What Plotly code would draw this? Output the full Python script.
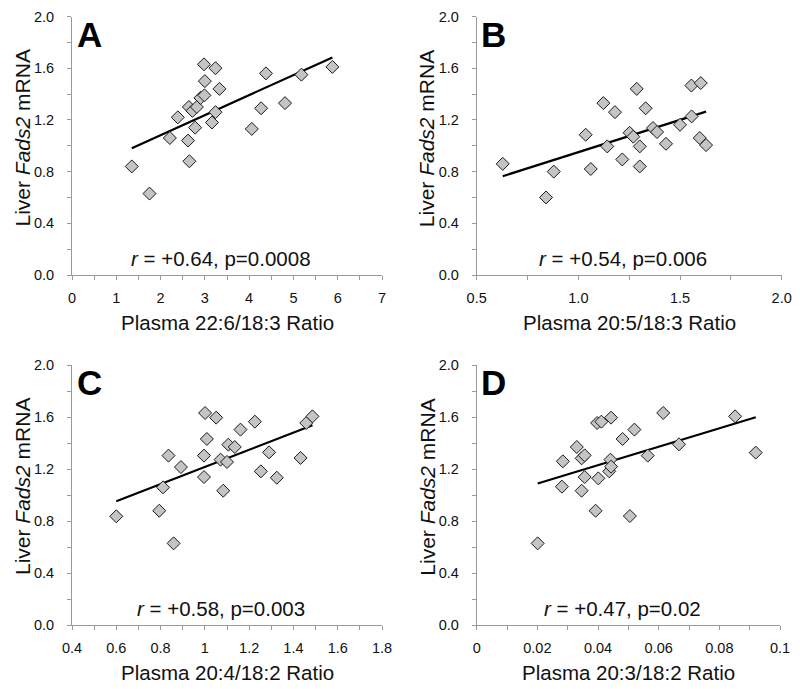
import numpy as np
import plotly.graph_objects as go

# ---------------- data ----------------
a_x = [1.35, 1.75, 2.21, 2.39, 2.62, 2.65, 2.64, 2.72, 2.82, 2.78, 2.90, 2.99,
       3.00, 2.98, 3.24, 3.33, 3.24, 3.16, 4.06, 4.27, 4.38, 4.81, 5.18, 5.88]
a_y = [0.84, 0.63, 1.06, 1.22, 1.04, 0.88, 1.30, 1.27, 1.30, 1.14, 1.37, 1.39,
       1.50, 1.63, 1.60, 1.44, 1.26, 1.18, 1.13, 1.29, 1.56, 1.33, 1.55, 1.61]

b_x = [0.628, 0.841, 0.879, 1.036, 1.061, 1.123, 1.142, 1.180, 1.216, 1.252, 1.270, 1.287,
       1.302, 1.302, 1.331, 1.367, 1.387, 1.431, 1.500, 1.556, 1.557, 1.602, 1.597, 1.628]
b_y = [0.86, 0.60, 0.80, 1.085, 0.82, 1.33, 0.995, 1.26, 0.894, 1.10, 1.07, 1.44,
       0.995, 0.84, 1.29, 1.137, 1.106, 1.015, 1.162, 1.466, 1.227, 1.485, 1.06, 1.005]

c_x = [0.600, 0.794, 0.811, 0.836, 0.859, 0.892, 0.996, 0.996, 1.001, 1.009, 1.051, 1.071,
       1.083, 1.100, 1.106, 1.135, 1.161, 1.226, 1.253, 1.290, 1.325, 1.432, 1.458, 1.486]
c_y = [0.836, 0.879, 1.059, 1.303, 0.628, 1.215, 1.138, 1.303, 1.631, 1.431, 1.595, 1.272,
       1.033, 1.254, 1.387, 1.369, 1.503, 1.564, 1.182, 1.328, 1.133, 1.285, 1.554, 1.605]

d_x = [0.0201, 0.0281, 0.0284, 0.0330, 0.0346, 0.0346, 0.0356, 0.0356, 0.0392, 0.0397, 0.0411, 0.0401,
       0.0437, 0.0441, 0.0443, 0.0443, 0.0481, 0.0505, 0.0520, 0.0564, 0.0615, 0.0667, 0.0852, 0.0920]
d_y = [0.628, 1.064, 1.259, 1.369, 1.033, 1.282, 1.305, 1.138, 0.879, 1.554, 1.564, 1.128,
       1.182, 1.272, 1.218, 1.595, 1.431, 0.838, 1.503, 1.303, 1.631, 1.390, 1.605, 1.326]

panel_letters = ["A", "B", "C", "D"]
stat_labels = ["<i>r</i> = +0.64, p=0.0008", "<i>r</i> = +0.54, p=0.006",
               "<i>r</i> = +0.58, p=0.003", "<i>r</i> = +0.47, p=0.02"]
x_titles = ["Plasma 22:6/18:3 Ratio", "Plasma 20:5/18:3 Ratio",
            "Plasma 20:4/18:2 Ratio", "Plasma 20:3/18:2 Ratio"]
y_title = "Liver <i>Fads2</i> mRNA"
x_ranges = [[0, 7], [0.5, 2.0], [0.4, 1.8], [0, 0.1]]
x_dticks = [1, 0.5, 0.2, 0.02]
x_formats = ["", ".1f", "", ""]
y_range = [0, 2.0]

xs = [a_x, b_x, c_x, d_x]
ys = [a_y, b_y, c_y, d_y]

# ---------------- layout geometry (pixels in the final screenshot) ----------------
W, H = 800, 689
OFF = 8  # default page body margin
px_left = [(72, 382), (476.7, 781.7), (72, 382), (476.7, 780)]
px_vert = [(16.5, 275), (16.5, 275), (365, 625), (365, 625)]  # (top, bottom)


def fx(p):
    return (p - OFF) / W


def fy(p):
    return 1 - (p - OFF) / H


FONT = "Liberation Sans, Arial, sans-serif"
AXCOL = "#9a9a9a"
TXT = "#111111"

fig = go.Figure()
annotations = []
layout_axes = {}

for i in range(4):
    n = "" if i == 0 else str(i + 1)
    xa, ya = "x" + n, "y" + n
    x = np.array(xs[i])
    y = np.array(ys[i])

    # regression line through the data
    slope, intercept = np.polyfit(x, y, 1)
    lx = np.array([x.min(), x.max()])
    fig.add_trace(go.Scatter(x=lx, y=slope * lx + intercept, mode="lines",
                             line=dict(color="black", width=2.2),
                             xaxis=xa, yaxis=ya, showlegend=False, hoverinfo="skip"))
    fig.add_trace(go.Scatter(x=x, y=y, mode="markers",
                             marker=dict(symbol="diamond", size=10, color="#c4c4c4",
                                         line=dict(color="#1a1a1a", width=1)),
                             xaxis=xa, yaxis=ya, showlegend=False))

    l, r = px_left[i]
    t, b = px_vert[i]
    xd = [fx(l), fx(r)]
    yd = [fy(b), fy(t)]

    layout_axes["xaxis" + n] = dict(
        domain=xd, anchor=ya, range=x_ranges[i], dtick=x_dticks[i], tick0=0,
        tickformat=x_formats[i], showgrid=False, zeroline=False,
        showline=True, linecolor=AXCOL, linewidth=1,
        ticks="outside", ticklen=4, tickcolor=AXCOL, tickwidth=1,
        minor=dict(dtick=x_dticks[i] / 2, ticks="outside", ticklen=4,
                   tickcolor=AXCOL, showgrid=False),
        tickfont=dict(family=FONT, size=14.5, color=TXT),
        ticklabelstandoff=6, automargin=False, fixedrange=True)
    layout_axes["yaxis" + n] = dict(
        domain=yd, anchor=xa, range=y_range, dtick=0.4, tick0=0, tickformat=".1f",
        showgrid=False, zeroline=False, showline=True, linecolor=AXCOL, linewidth=1,
        ticks="outside", ticklen=4, tickcolor=AXCOL, tickwidth=1,
        minor=dict(dtick=0.2, ticks="outside", ticklen=4, tickcolor=AXCOL, showgrid=False),
        tickfont=dict(family=FONT, size=14.5, color=TXT),
        ticklabelstandoff=10, automargin=False, fixedrange=True)

    # panel letter
    annotations.append(dict(text="<b>%s</b>" % panel_letters[i], xref="paper", yref="paper",
                            x=fx(l + 17), y=fy(t + 18), xanchor="center", yanchor="middle",
                            showarrow=False, font=dict(family=FONT, size=35, color="black")))
    # statistics
    annotations.append(dict(text=stat_labels[i], xref="paper", yref="paper",
                            x=fx(l + 0.48 * (r - l)), y=fy(b - 17),
                            xanchor="center", yanchor="middle", showarrow=False,
                            font=dict(family=FONT, size=20.5, color=TXT)))
    # x title
    annotations.append(dict(text=x_titles[i], xref="paper", yref="paper",
                            x=fx(l + 0.5 * (r - l)), y=fy(b + 47),
                            xanchor="center", yanchor="middle", showarrow=False,
                            font=dict(family=FONT, size=20.5, color=TXT)))
    # y title
    annotations.append(dict(text=y_title, xref="paper", yref="paper", textangle=-90,
                            x=fx(l - 50), y=fy(t + 122),
                            xanchor="center", yanchor="middle", showarrow=False,
                            font=dict(family=FONT, size=21, color=TXT)))

fig.update_layout(width=W, height=H,
                  margin=dict(l=0, r=0, t=0, b=0, autoexpand=False),
                  paper_bgcolor="white", plot_bgcolor="white",
                  annotations=annotations, **layout_axes)

fig.write_html("out.html")
